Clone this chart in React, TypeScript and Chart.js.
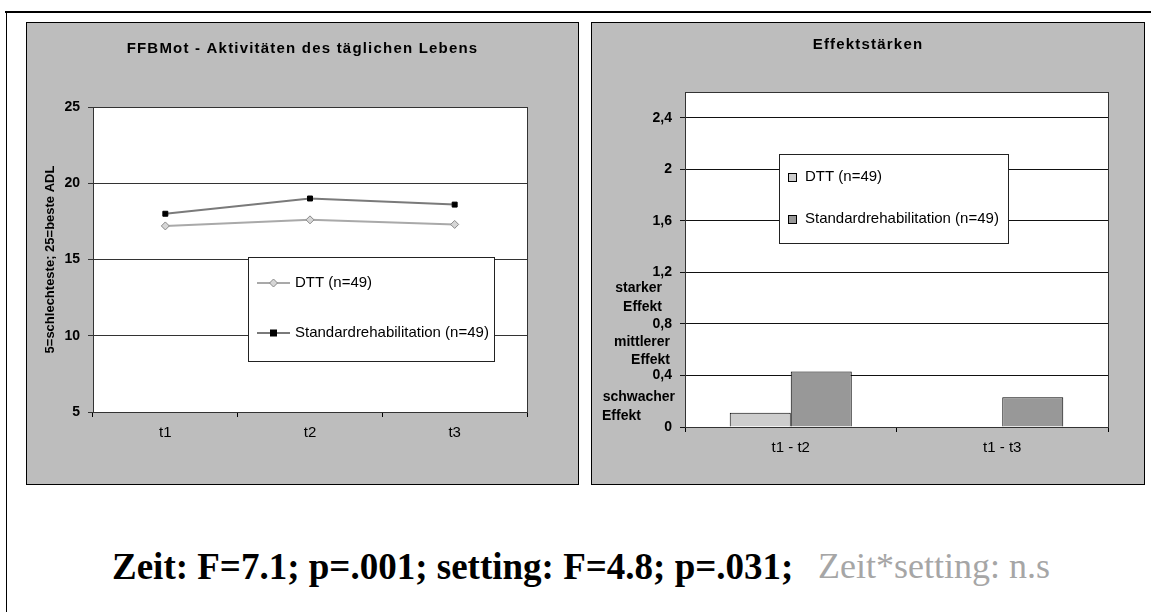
import React, { useEffect, useRef } from 'react';
import { Chart, registerables } from 'chart.js';

Chart.register(...registerables);

// ---------- data ----------
const timePoints = ['t1', 't2', 't3'];
const dttAdl = [17.2, 17.6, 17.3];
const standardAdl = [18.0, 19.0, 18.6];
const adlTicks = [5, 10, 15, 20, 25];

const effectCategories = ['t1 - t2', 't1 - t3'];
const dttEffect = [0.11, 0];
const standardEffect = [0.43, 0.23];
const effectTicks = [0, 0.4, 0.8, 1.2, 1.6, 2, 2.4];
const effectBandBounds = [[0.8, 1.2], [0.4, 0.8], [0, 0.4]];
const effectBandLabels = [['starker', 'Effekt'], ['mittlerer', 'Effekt'], ['schwacher', 'Effekt']];

const seriesNames = ['DTT (n=49)', 'Standardrehabilitation (n=49)'];
const leftTitle = 'FFBMot - Aktivitäten des täglichen Lebens';
const leftAxisTitle = '5=schlechteste; 25=beste ADL';
const rightTitle = 'Effektstärken';
const statsMain = 'Zeit: F=7.1; p=.001; setting: F=4.8; p=.031;';
const statsInteraction = 'Zeit*setting: n.s';

// ---------- styles ----------
const SANS = '"Liberation Sans", Arial, sans-serif';
const PANEL = '#bdbdbd';
const DTT_LINE = '#a9a9a9';
const STD_LINE = '#7a7a7a';
const DTT_BAR = '#cdcdcd';
const STD_BAR = '#989898';

function panelPlugin(title: string, titleY: number) {
  return {
    id: 'panelDecor',
    beforeDraw(chart: any) {
      const { ctx, width, height, chartArea: a } = chart;
      ctx.save();
      ctx.fillStyle = PANEL;
      ctx.fillRect(0, 0, width, height);
      ctx.strokeStyle = '#000';
      ctx.lineWidth = 1;
      ctx.strokeRect(0.5, 0.5, width - 1, height - 1);
      ctx.fillStyle = '#fff';
      ctx.fillRect(a.left, a.top, a.right - a.left, a.bottom - a.top);
      ctx.fillStyle = '#000';
      ctx.font = `bold 15px ${SANS}`;
      ctx.textAlign = 'center';
      ctx.textBaseline = 'middle';
      (ctx as any).letterSpacing = '1.2px';
      ctx.fillText(title, width / 2, titleY);
      ctx.restore();
    },
    beforeDatasetsDraw(chart: any) {
      const { ctx, chartArea: a } = chart;
      ctx.save();
      ctx.strokeStyle = '#333';
      ctx.lineWidth = 1;
      ctx.strokeRect(Math.round(a.left) + 0.5, Math.round(a.top) + 0.5, Math.round(a.right - a.left), Math.round(a.bottom - a.top));
      ctx.restore();
    },
  };
}

const lineLegendPlugin = {
  id: 'lineLegend',
  afterDraw(chart: any) {
    const { ctx } = chart;
    const box = { x: 222, y: 235, w: 246, h: 104 };
    ctx.save();
    ctx.fillStyle = '#fff';
    ctx.fillRect(box.x, box.y, box.w, box.h);
    ctx.strokeStyle = '#222';
    ctx.lineWidth = 1;
    ctx.strokeRect(box.x + 0.5, box.y + 0.5, box.w, box.h);
    const rows = [261, 311];
    chart.data.datasets.forEach((ds: any, i: number) => {
      const y = rows[i];
      ctx.strokeStyle = ds.borderColor;
      ctx.lineWidth = 2;
      ctx.beginPath();
      ctx.moveTo(231, y);
      ctx.lineTo(264, y);
      ctx.stroke();
      ctx.fillStyle = ds.pointBackgroundColor;
      ctx.strokeStyle = ds.pointBorderColor;
      ctx.lineWidth = 1;
      if (ds.pointStyle === 'rect') {
        ctx.fillRect(244, y - 3.5, 7, 7);
      } else {
        ctx.beginPath();
        ctx.moveTo(247.5, y - 4);
        ctx.lineTo(251.5, y);
        ctx.lineTo(247.5, y + 4);
        ctx.lineTo(243.5, y);
        ctx.closePath();
        ctx.fill();
        ctx.stroke();
      }
      ctx.fillStyle = '#000';
      ctx.font = `15px ${SANS}`;
      ctx.textAlign = 'left';
      ctx.textBaseline = 'middle';
      ctx.fillText(ds.label, 269, y);
    });
    ctx.restore();
  },
};

const barLegendPlugin = {
  id: 'barLegend',
  afterDraw(chart: any) {
    const { ctx } = chart;
    const box = { x: 188, y: 132, w: 229, h: 89 };
    ctx.save();
    ctx.fillStyle = '#fff';
    ctx.fillRect(box.x, box.y, box.w, box.h);
    ctx.strokeStyle = '#222';
    ctx.lineWidth = 1;
    ctx.strokeRect(box.x + 0.5, box.y + 0.5, box.w, box.h);
    const rows = [155, 197];
    chart.data.datasets.forEach((ds: any, i: number) => {
      const y = rows[i];
      ctx.fillStyle = ds.backgroundColor;
      ctx.fillRect(197, y - 4, 9, 9);
      ctx.strokeStyle = '#000';
      ctx.strokeRect(197.5, y - 3.5, 8, 8);
      ctx.fillStyle = '#000';
      ctx.font = `15px ${SANS}`;
      ctx.textAlign = 'left';
      ctx.textBaseline = 'middle';
      ctx.fillText(ds.label, 214, y);
    });
    ctx.restore();
  },
};

const effectBandPlugin = {
  id: 'effectBands',
  afterDraw(chart: any) {
    const { ctx } = chart;
    const yScale = chart.scales.y;
    const rightEdges = [71, 79, 84];
    const offsets = [[-10, 9], [-8, 10], [-4, 15]];
    ctx.save();
    ctx.fillStyle = '#000';
    ctx.font = `bold 14px ${SANS}`;
    ctx.textBaseline = 'middle';
    effectBandLabels.forEach((lines, i) => {
      const [lo, hi] = effectBandBounds[i];
      const mid = yScale.getPixelForValue((lo + hi) / 2);
      lines.forEach((text, j) => {
        if (i === 2 && j === 1) {
          ctx.textAlign = 'left';
          ctx.fillText(text, 11, mid + offsets[i][j]);
        } else {
          ctx.textAlign = 'right';
          ctx.fillText(text, rightEdges[i], mid + offsets[i][j]);
        }
      });
    });
    ctx.restore();
  },
};

export default function App() {
  const leftRef = useRef<HTMLCanvasElement | null>(null);
  const rightRef = useRef<HTMLCanvasElement | null>(null);

  useEffect(() => {
    Chart.defaults.font.family = SANS;
    Chart.defaults.color = '#000';

    const left = new Chart(leftRef.current as HTMLCanvasElement, {
      type: 'line',
      data: {
        labels: timePoints,
        datasets: [
          {
            label: seriesNames[0],
            data: dttAdl,
            borderColor: DTT_LINE,
            borderWidth: 2,
            pointStyle: 'rectRot',
            pointRadius: 4,
            pointBackgroundColor: '#d6d6d6',
            pointBorderColor: '#8a8a8a',
            pointBorderWidth: 1,
            tension: 0,
          },
          {
            label: seriesNames[1],
            data: standardAdl,
            borderColor: STD_LINE,
            borderWidth: 2,
            pointStyle: 'rect',
            pointRadius: 3.5,
            pointBackgroundColor: '#000',
            pointBorderColor: '#000',
            pointBorderWidth: 1,
            tension: 0,
          },
        ],
      } as any,
      options: {
        responsive: false,
        animation: false,
        devicePixelRatio: 1,
        layout: { padding: { top: 85, right: 52, bottom: 0, left: 0 } },
        plugins: { legend: { display: false }, title: { display: false }, tooltip: { enabled: false } },
        scales: {
          x: {
            offset: true,
            grid: { offset: true, drawOnChartArea: false, tickLength: 5, color: '#000' },
            border: { display: true, color: '#333' },
            ticks: { font: { size: 15 }, color: '#000', padding: 7 },
            afterFit: (s: any) => { s.height = 73; },
          },
          y: {
            min: 5,
            max: 25,
            afterBuildTicks: (s: any) => { s.ticks = adlTicks.map((v) => ({ value: v })); },
            grid: { color: '#333', lineWidth: 1, tickLength: 5 },
            border: { display: true, color: '#333' },
            ticks: { font: { size: 14, weight: 'bold' }, color: '#000', padding: 8 },
            title: {
              display: true,
              text: leftAxisTitle,
              font: { size: 13, weight: 'bold' },
              color: '#000',
              padding: { top: 17, bottom: 0 },
            },
            afterFit: (s: any) => { s.width = 67; },
          },
        },
      } as any,
      plugins: [panelPlugin(leftTitle, 27), lineLegendPlugin],
    });

    const right = new Chart(rightRef.current as HTMLCanvasElement, {
      type: 'bar',
      data: {
        labels: effectCategories,
        datasets: [
          {
            label: seriesNames[0],
            data: dttEffect,
            backgroundColor: DTT_BAR,
            borderColor: '#000',
            borderWidth: 1,
            barPercentage: 1,
            categoryPercentage: 0.577,
          },
          {
            label: seriesNames[1],
            data: standardEffect,
            backgroundColor: STD_BAR,
            borderColor: '#000',
            borderWidth: 1,
            barPercentage: 1,
            categoryPercentage: 0.577,
          },
        ],
      } as any,
      options: {
        responsive: false,
        animation: false,
        devicePixelRatio: 1,
        layout: { padding: { top: 70, right: 37, bottom: 0, left: 0 } },
        plugins: { legend: { display: false }, title: { display: false }, tooltip: { enabled: false } },
        scales: {
          x: {
            offset: true,
            grid: { offset: true, drawOnChartArea: false, tickLength: 5, color: '#000' },
            border: { display: true, color: '#000' },
            ticks: { font: { size: 15 }, color: '#000', padding: 7 },
            afterFit: (s: any) => { s.height = 58; },
          },
          y: {
            min: 0,
            max: 2.6,
            afterBuildTicks: (s: any) => { s.ticks = effectTicks.map((v) => ({ value: v })); },
            grid: { color: '#111', lineWidth: 1, tickLength: 5 },
            border: { display: true, color: '#000' },
            ticks: {
              font: { size: 14, weight: 'bold' },
              color: '#000',
              padding: 8,
              callback: (v: any) => String(v).replace('.', ','),
            },
            afterFit: (s: any) => { s.width = 94; },
          },
        },
      } as any,
      plugins: [panelPlugin(rightTitle, 23), barLegendPlugin, effectBandPlugin],
    });

    return () => {
      left.destroy();
      right.destroy();
    };
  }, []);

  const serif = '"Liberation Serif", "Times New Roman", serif';

  return (
    <div style={{ position: 'absolute', left: 0, top: 0, width: 1151, height: 612, background: '#fff', overflow: 'hidden' }}>
      <div style={{ position: 'absolute', left: 5, top: 11, width: 1146, height: 2, background: '#000' }} />
      <div style={{ position: 'absolute', left: 6, top: 12, width: 1, height: 600, background: '#000' }} />
      <canvas
        ref={leftRef}
        width={553}
        height={463}
        style={{ position: 'absolute', left: 26, top: 22, width: 553, height: 463 }}
      />
      <canvas
        ref={rightRef}
        width={554}
        height={463}
        style={{ position: 'absolute', left: 591, top: 22, width: 554, height: 463 }}
      />
      <div
        style={{
          position: 'absolute',
          left: 112,
          top: 548,
          font: `bold 37px ${serif}`,
          lineHeight: '37px',
          color: '#000',
          whiteSpace: 'nowrap',
        }}
      >
        {statsMain}
      </div>
      <div
        style={{
          position: 'absolute',
          left: 818,
          top: 548,
          font: `36px ${serif}`,
          lineHeight: '37px',
          color: '#a6a6a6',
          whiteSpace: 'nowrap',
        }}
      >
        {statsInteraction}
      </div>
    </div>
  );
}
